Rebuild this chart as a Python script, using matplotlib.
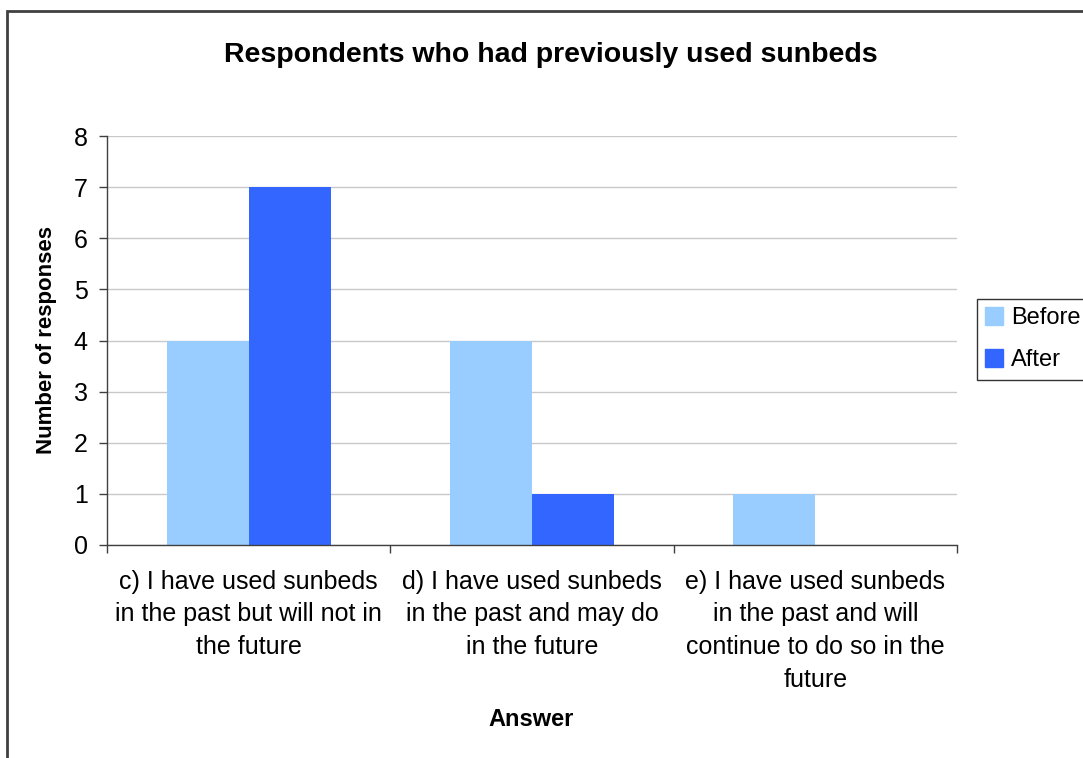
import matplotlib.pyplot as plt
from matplotlib.patches import Rectangle
import numpy as np

plt.rcParams['font.family'] = ['Liberation Sans', 'DejaVu Sans']

categories = [
    "c) I have used sunbeds\nin the past but will not in\nthe future",
    "d) I have used sunbeds\nin the past and may do\nin the future",
    "e) I have used sunbeds\nin the past and will\ncontinue to do so in the\nfuture",
]
before = [4, 4, 1]
after = [7, 1, 0]
series_names = ["Before", "After"]
colors = ["#99CCFF", "#3366FF"]

fig = plt.figure(figsize=(10.83, 7.58), dpi=100)
ax = fig.add_axes([107/1083, 1-545/758, 850/1083, 409/758])

x = np.arange(len(categories))
w = 0.29
ax.bar(x - w/2, before, w, color=colors[0], zorder=2)
ax.bar(x + w/2, after, w, color=colors[1], zorder=2)

ax.set_xlim(-0.5, len(categories) - 0.5)
ax.set_ylim(0, 8)
ax.set_yticks(range(0, 9))
ax.yaxis.grid(True, color="#C8C8C8", linewidth=1, zorder=0)
ax.tick_params(axis='y', labelsize=18, length=6, width=1, color="#404040", pad=8)

# category labels in the middle, tick marks on the boundaries
ax.set_xticks(np.arange(-0.5, len(categories)))
ax.set_xticklabels([])
ax.tick_params(axis='x', length=6, width=1, color="#404040")
for i, lab in enumerate(categories):
    ax.text(i, -0.48, lab, ha='center', va='top', fontsize=18,
            linespacing=1.47)

for s in ['top', 'right']:
    ax.spines[s].set_visible(False)
for s in ['left', 'bottom']:
    ax.spines[s].set_color("#404040")
    ax.spines[s].set_linewidth(1)

ax.set_ylabel("Number of responses", fontsize=16, fontweight='bold', labelpad=12)
fig.text(531/1083, 1-720/758, "Answer", ha='center', va='center',
         fontsize=17, fontweight='bold')
fig.text(551/1083, 1-55/758, "Respondents who had previously used sunbeds",
         ha='center', va='center', fontsize=20.5, fontweight='bold')

# outer chart border
fig.patches.append(Rectangle((7/1083, -0.05), 1.2, 1 - 11/758 + 0.05,
                             transform=fig.transFigure, fill=False,
                             edgecolor="#404040", linewidth=2))

handles = [Rectangle((0, 0), 1, 1, color=c) for c in colors]
leg = fig.legend(handles, series_names, loc='upper left',
                 bbox_to_anchor=(977/1083, 1-299/758), fontsize=17,
                 frameon=True, fancybox=False, handlelength=0.75,
                 handleheight=0.75, handletextpad=0.35, borderpad=0.35,
                 labelspacing=0.85, borderaxespad=0)
leg.get_frame().set_edgecolor("black")
leg.get_frame().set_linewidth(1)

fig.savefig("out.png", dpi=100)
